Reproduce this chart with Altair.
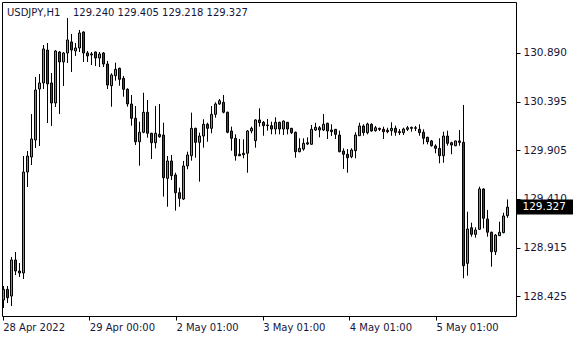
import altair as alt
import pandas as pd
import numpy as np

symbol = "USDJPY,H1"

opens = [128.385,128.493,128.425,128.791,128.679,128.659,129.683,129.835,130.008,130.525,
130.586,130.920,130.586,130.383,130.900,130.799,130.890,131.002,130.910,130.941,
131.103,130.890,130.880,130.900,130.839,130.890,130.778,130.558,130.660,130.735,
130.633,130.522,130.373,130.228,129.990,130.086,130.289,130.076,129.980,130.065,
130.058,129.619,129.795,129.653,129.473,129.409,129.744,129.848,130.126,129.984,
130.048,130.167,130.126,130.268,130.373,130.390,130.289,130.099,130.025,129.863,
129.859,129.873,130.099,130.001,130.211,130.187,130.160,130.153,130.119,130.187,
130.119,130.187,130.126,130.086,129.889,129.916,129.980,129.964,130.109,130.132,
130.109,130.177,130.109,130.116,130.058,129.896,129.863,129.838,129.899,130.051,
130.150,130.082,130.167,130.102,130.126,130.116,130.106,130.102,130.126,130.092,
130.082,130.116,130.136,130.126,130.116,130.086,130.035,129.998,129.947,129.923,
129.848,130.048,129.980,129.950,129.998,129.984,128.757,129.118,129.051,129.102,
129.511,129.206,129.072,128.875,129.037,129.068,129.240]

highs = [128.527,128.527,128.821,128.872,128.760,129.845,129.896,130.271,130.647,130.677,
130.971,130.991,130.687,130.920,130.910,130.900,131.245,131.083,130.991,131.123,
131.110,130.910,130.900,130.905,130.900,130.900,130.809,130.684,130.792,130.741,
130.657,130.532,130.464,130.352,130.193,130.487,130.413,130.080,130.352,130.373,
130.183,129.845,129.856,129.676,129.524,129.795,129.889,130.285,130.132,130.082,
130.218,130.183,130.352,130.390,130.423,130.464,130.295,130.143,130.065,130.018,
130.015,130.109,130.143,130.218,130.329,130.200,130.221,130.193,130.238,130.193,
130.205,130.190,130.130,130.092,130.025,130.025,130.035,130.160,130.183,130.150,
130.271,130.183,130.167,130.119,130.102,129.923,129.916,129.923,130.086,130.183,
130.167,130.183,130.177,130.150,130.132,130.143,130.132,130.187,130.153,130.119,
130.132,130.150,130.143,130.150,130.167,130.116,130.041,130.008,129.964,130.025,
130.092,130.102,129.990,130.000,130.109,130.363,129.280,129.169,129.122,129.534,
129.518,129.298,129.078,129.054,129.179,129.270,129.405]

lows = [128.304,128.354,128.324,128.638,128.618,128.598,129.531,129.754,129.927,129.947,
130.525,130.180,130.150,130.342,130.271,130.555,130.789,130.697,130.860,130.900,
130.799,130.799,130.768,130.758,130.748,130.748,130.525,130.345,130.609,130.558,
130.447,130.345,130.153,129.957,129.747,130.076,130.031,129.815,129.923,130.031,
129.433,129.331,129.602,129.291,129.331,129.399,129.711,129.798,129.828,129.585,
129.930,129.990,130.076,130.234,130.363,130.278,130.076,129.899,129.798,129.845,
129.822,129.676,130.076,129.930,130.143,130.051,130.102,130.065,130.065,130.065,
130.058,130.065,130.068,129.828,129.883,129.899,129.957,129.960,130.099,130.035,
130.099,130.018,130.048,130.018,129.883,129.714,129.676,129.822,129.822,130.048,
130.051,130.065,130.092,130.092,130.099,130.018,130.076,130.051,130.051,130.058,
130.058,130.099,130.092,130.099,130.051,129.964,129.964,129.940,129.873,129.771,
129.777,129.950,129.863,129.945,129.950,128.605,128.631,129.027,129.017,129.095,
129.112,129.027,128.723,128.841,129.034,129.061,129.218]

closes = [128.493,128.408,128.791,128.679,128.659,129.683,129.845,130.018,130.515,130.586,
130.931,130.576,130.383,130.910,130.799,130.890,131.022,130.920,130.941,131.093,
130.890,130.860,130.870,130.839,130.880,130.778,130.565,130.667,130.725,130.623,
130.522,130.373,130.228,129.990,130.086,130.289,130.076,129.980,130.076,130.041,
129.625,129.795,129.646,129.473,129.416,129.744,129.856,130.126,129.984,130.048,
130.167,130.126,130.268,130.373,130.406,130.289,130.086,130.025,129.848,129.848,
129.873,130.099,130.126,130.211,130.183,130.153,130.153,130.119,130.187,130.119,
130.200,130.119,130.082,129.889,129.923,129.974,129.967,130.116,130.136,130.109,
130.167,130.099,130.092,130.065,129.889,129.863,129.828,129.906,130.058,130.150,
130.082,130.170,130.099,130.132,130.116,130.092,130.092,130.126,130.086,130.082,
130.119,130.132,130.126,130.132,130.082,130.025,129.990,129.950,129.923,129.848,
130.048,129.974,129.957,129.998,129.984,128.733,129.105,129.051,129.095,129.511,
129.214,129.072,128.875,129.044,129.072,129.237,129.327]

tick_pos = [-0.2, 21.45, 43.1, 64.8, 86.45, 108.1]
tick_labels = ["28 Apr 2022", "29 Apr 00:00", "2 May 01:00", "3 May 01:00", "4 May 01:00", "5 May 01:00"]
y_ticks = [128.425, 128.915, 129.410, 129.905, 130.395, 130.890]

FONT = "DejaVu Sans"
FS = 10.5
FSX = 10
TXT = "#16163a"

df = pd.DataFrame({"i": np.arange(len(opens)), "open": opens, "high": highs,
                   "low": lows, "close": closes})
df["lo"] = df[["open", "close"]].min(axis=1)
df["hi"] = df[["open", "close"]].max(axis=1)
df["dir"] = np.where(df["close"] >= df["open"], "up", "down")

xscale = alt.Scale(domain=[-0.375, 128.125], nice=False, zero=False)
yscale = alt.Scale(domain=[128.2226, 131.4072], nice=False, zero=False)

label_expr = "[" + ",".join("'%s'" % t for t in tick_labels) + "][indexof([" + \
    ",".join(str(v) for v in tick_pos) + "], datum.value)]"

xaxis = alt.Axis(values=tick_pos, labelExpr=label_expr, title=None, grid=False, domain=False,
                 tickSize=4, tickColor="black", labelAlign="left", labelBaseline="top",
                 labelPadding=2, labelFont=FONT, labelFontSize=FSX, labelColor=TXT,
                 labelOverlap=False, labelBound=False, labelFlush=False)
yaxis = alt.Axis(orient="right", values=y_ticks, format=".3f", title=None, grid=False,
                 domain=False, tickSize=4, tickColor="black", labelPadding=3,
                 labelFont=FONT, labelFontSize=FS, labelColor=TXT, labelBaseline="middle",
                 labelOverlap=False, labelBound=False, labelFlush=False)

base = alt.Chart(df)

wicks = base.mark_rule(color="black", strokeWidth=1).encode(
    x=alt.X("i:Q", scale=xscale, axis=xaxis),
    y=alt.Y("low:Q", scale=yscale, axis=yaxis),
    y2="high:Q",
)

bodies = base.transform_calculate(
    x0="datum.i - 0.25", x1="datum.i + 0.25"
).mark_rect(stroke="black", strokeWidth=1).encode(
    x=alt.X("x0:Q", scale=xscale, axis=xaxis),
    x2="x1:Q",
    y=alt.Y("lo:Q", scale=yscale, axis=yaxis),
    y2="hi:Q",
    fill=alt.Fill("dir:N", scale=alt.Scale(domain=["up", "down"], range=["#00e600", "#e00000"]),
                  legend=None),
)

last = df.tail(1)
box = alt.Chart(last).transform_calculate(
    b0="datum.close - 0.076", b1="datum.close + 0.076"
).mark_rect(color="black").encode(
    x=alt.value(515), x2=alt.value(571),
    y=alt.Y("b0:Q", scale=yscale, axis=yaxis), y2="b1:Q",
)
box_text = alt.Chart(last).mark_text(
    align="left", baseline="middle", color="white", font=FONT, fontSize=FS
).encode(
    x=alt.value(520.5),
    y=alt.Y("close:Q", scale=yscale, axis=yaxis),
    text=alt.Text("close:Q", format=".3f"),
)

header_str = f"{symbol}\u00a0\u00a0\u00a0\u00a0{opens[-1]:.3f} {highs[-1]:.3f} {lows[-1]:.3f} {closes[-1]:.3f}"
header = alt.Chart(pd.DataFrame({"t": [header_str]})).mark_text(
    align="left", baseline="alphabetic", font=FONT, fontSize=FSX, color=TXT
).encode(x=alt.value(5), y=alt.value(14), text="t:N")

chart = alt.layer(wicks, bodies, box, box_text, header).properties(
    width=514, height=314,
    padding={"left": 2, "top": 2, "right": 64, "bottom": 24},
    autosize=alt.AutoSizeParams(type="none"),
    background="white",
).configure_view(stroke="black", strokeWidth=1)

chart.save("out.html", embed_options={"renderer": "svg", "actions": False})
